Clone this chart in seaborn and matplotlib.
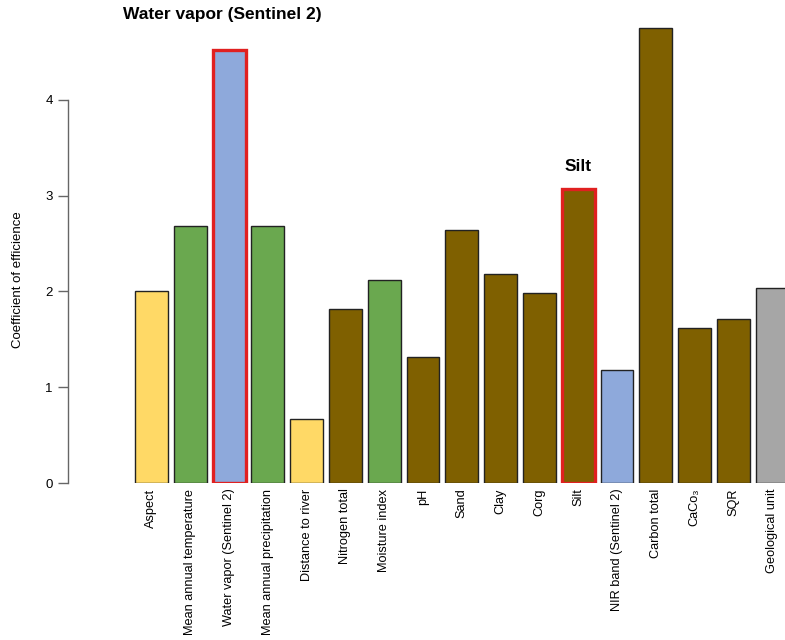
import matplotlib
matplotlib.use("Agg")
import matplotlib.pyplot as plt
import seaborn as sns

# данные
labels = ["Aspect", "Mean annual temperature", "Water vapor (Sentinel 2)",
          "Mean annual precipitation", "Distance to river", "Nitrogen total",
          "Moisture index", "pH", "Sand", "Clay", "Corg", "Silt",
          "NIR band (Sentinel 2)", "Carbon total", "CaCo₃", "SQR", "Geological unit"]
values = [2.00, 2.68, 4.52, 2.68, 0.67, 1.82, 2.12, 1.31, 2.64, 2.18, 1.98, 3.07,
          1.18, 4.75, 1.62, 1.71, 2.03]
groups = ["topo", "climate", "remote", "climate", "topo", "soil", "climate", "soil",
          "soil", "soil", "soil", "soil", "remote", "soil", "soil", "soil", "geo"]
highlight = ["Water vapor (Sentinel 2)", "Silt"]

group_colors = {"topo": "#FFD966", "climate": "#6AA84F", "remote": "#8EA9DB",
                "soil": "#7F6000", "geo": "#A6A6A6"}
bar_colors = [group_colors[g] for g in groups]

sns.set_style("white")
plt.rcParams['font.family'] = ['Liberation Sans', 'DejaVu Sans']
plt.rcParams['text.color'] = 'black'
plt.rcParams['xtick.color'] = 'black'
plt.rcParams['ytick.color'] = 'black'

fig = plt.figure(figsize=(7.85, 6.4), dpi=100)
ax = fig.add_axes([68 / 785, 157 / 640, 1 - 68 / 785, 483 / 640])

sns.barplot(x=labels, y=values, hue=labels, palette=bar_colors, legend=False,
            width=0.85, edgecolor="#222222", linewidth=1.0, saturation=1, ax=ax)

for patch, lab in zip(ax.patches, labels):
    if lab in highlight:
        patch.set_edgecolor("#E02020")
        patch.set_linewidth(2.4)

ax.set_xlim(-2.15, 16.33)
ax.set_ylim(0, 5.04)

for s in ["top", "right", "bottom"]:
    ax.spines[s].set_visible(False)
ax.spines["left"].set_bounds(0, 4)
ax.spines["left"].set_color("#666666")
ax.spines["left"].set_linewidth(1.0)

ax.set_yticks([0, 1, 2, 3, 4])
ax.tick_params(axis="y", direction="out", length=7, width=1.0, color="#666666",
               labelcolor="black", labelsize=9.5, pad=4, left=True)
ax.tick_params(axis="x", length=0, pad=4, labelsize=9.2, labelcolor="black")
ax.set_xticks(range(len(labels)))
ax.set_xticklabels(labels, rotation=90, ha="center", va="top")
ax.set_xlabel("")
ax.set_ylabel("")

fig.text(18 / 785, 1 - 280 / 640, "Coefficient of efficience", rotation=90,
         ha="center", va="center", fontsize=9.5)
fig.text(222 / 785, 1 - 15 / 640, "Water vapor (Sentinel 2)", ha="center",
         va="center", fontsize=12.5, fontweight="bold")
ax.text(labels.index("Silt"), values[labels.index("Silt")] + 0.23, "Silt",
        ha="center", va="center", fontsize=12.5, fontweight="bold")

fig.savefig("out.png", dpi=100)
